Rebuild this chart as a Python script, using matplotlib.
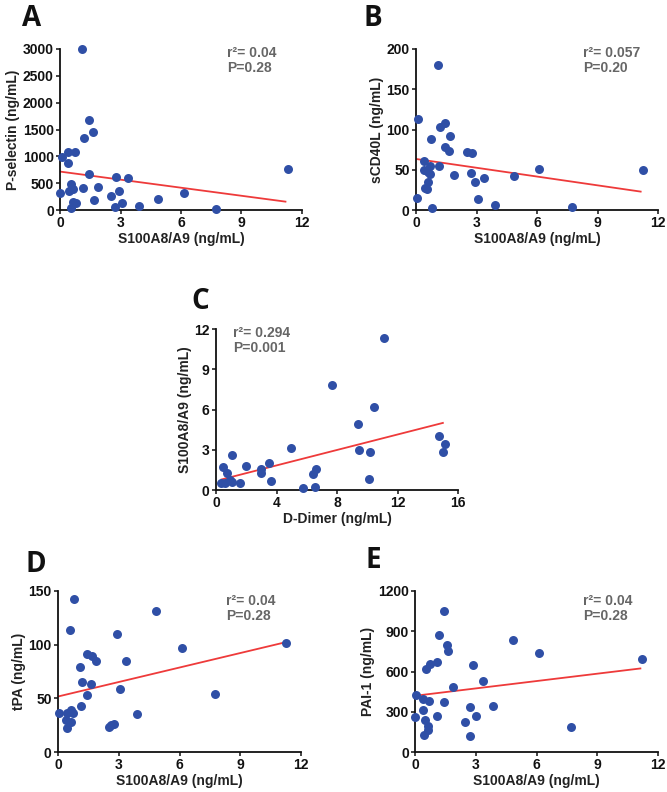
import matplotlib
matplotlib.use("Agg")
import matplotlib.pyplot as plt
import numpy as np

# ---------------- data ----------------
# Panel A: S100A8/A9 vs P-selectin
a_x = [1.08, 1.44, 1.62, 1.19, 0.41, 0.75, 0.08, 0.41, 1.46, 2.78, 3.36, 11.29, 0.53, 0.63,
       0.46, 1.16, 1.89, 0.02, 2.93, 2.52, 6.13, 4.88, 1.69, 3.06, 0.63, 0.78, 2.73, 3.94, 0.56, 7.75]
a_y = [3000, 1680, 1462, 1338, 1077, 1077, 996, 884, 672, 622, 591, 759, 479, 398,
       361, 417, 436, 311, 348, 268, 317, 205, 180, 137, 149, 124, 50, 81, 44, 25]
a_line = (716, -50.1, 0.0, 11.18)   # intercept, slope, x start, x end
a_stats = "r²= 0.04\nP=0.28"

# Panel B: S100A8/A9 vs sCD40L
b_x = [1.07, 0.10, 1.44, 1.19, 0.73, 1.68, 1.44, 1.62, 2.51, 2.79, 0.41, 0.68, 1.16, 0.40, 0.59,
       0.70, 1.90, 2.74, 4.87, 6.12, 11.24, 3.37, 2.92, 0.58, 0.45, 0.54, 0.03, 3.07, 3.93, 0.78, 7.74]
b_y = [180, 112.6, 108.5, 103, 88, 91.5, 77.8, 73.7, 72.5, 71.2, 60.9, 55, 55, 49.7, 47.6,
       44.3, 43.5, 45.5, 42.2, 50.5, 49.7, 40.2, 35.2, 35.2, 27.7, 26.1, 14.5, 14.1, 6.2, 2.9, 3.7]
b_line = (63.4, -3.64, 0.0, 11.14)
b_stats = "r²= 0.057\nP=0.20"

# Panel C: D-Dimer vs S100A8/A9
c_x = [0.44, 0.70, 0.31, 0.59, 0.93, 1.03, 1.06, 1.59, 1.98, 2.95, 2.95, 3.52, 3.61, 4.98,
       5.77, 6.43, 6.59, 6.54, 7.69, 9.40, 9.43, 10.18, 10.13, 10.42, 14.74, 15.15, 15.04, 11.10]
c_y = [1.68, 1.28, 0.49, 0.54, 0.74, 0.62, 2.62, 0.49, 1.78, 1.53, 1.23, 2.00, 0.69, 3.14,
       0.12, 1.19, 1.56, 0.20, 7.84, 4.94, 3.01, 2.84, 0.84, 6.22, 4.00, 3.46, 2.84, 11.35]
c_line = (0.68, 0.288, 0.37, 15.0)
c_stats = "r²= 0.294\nP=0.001"

# Panel D: S100A8/A9 vs tPA
d_x = [0.77, 4.86, 0.58, 2.92, 11.24, 6.12, 1.45, 1.68, 1.90, 3.38, 1.09, 1.20, 1.62, 3.08,
       1.45, 7.73, 1.15, 0.05, 0.66, 0.74, 0.46, 3.91, 0.41, 0.66, 2.77, 2.64, 2.51, 0.46]
d_y = [142.9, 131.1, 113.5, 110.1, 102, 97.1, 90.9, 89.7, 84.4, 84.4, 79.2, 65.6, 63.1, 58.5,
       53.5, 53.8, 42.4, 36.8, 39.3, 36.2, 36.2, 35.3, 30, 27.8, 26.3, 24.7, 23.5, 22.6]
d_line = (51.7, 4.5, 0.0, 11.13)
d_stats = "r²= 0.04\nP=0.28"

# Panel E: S100A8/A9 vs PAI-1
e_x = [1.42, 1.17, 4.83, 1.58, 1.65, 6.10, 11.21, 1.07, 0.73, 2.88, 0.56, 1.86, 3.35, 0.07, 0.40,
       0.69, 1.43, 3.87, 2.74, 0.38, 1.10, 3.03, 0.02, 0.49, 2.47, 0.63, 0.63, 7.70, 0.45, 2.72]
e_y = [1049, 873, 834, 795, 752, 740, 695, 670, 658, 648, 621, 487, 529, 428, 396,
       381, 373, 346, 334, 314, 270, 265, 260, 235, 225, 195, 166, 188, 129, 116]
e_line = (419, 18.3, 0.05, 11.13)
e_stats = "r²= 0.04\nP=0.28"

s100_ticks = [0, 3, 6, 9, 12]
ddimer_ticks = [0, 4, 8, 12, 16]

# ---------------- figure ----------------
W, H = 667, 792
fig = plt.figure(figsize=(W / 100, H / 100), dpi=100)

FONT = "Liberation Sans"
BLUE = "#2f4fa6"
RED = "#ee3a3a"
GRAY = "#666666"


def make_ax(x0, x1, y_top, y_bot):
    return fig.add_axes([x0 / W, 1 - y_bot / H, (x1 - x0) / W, (y_bot - y_top) / H])


def style(ax, xticks, yticks, xlabel, ylabel):
    ax.set_xlim(xticks[0], xticks[-1])
    ax.set_ylim(yticks[0], yticks[-1])
    ax.set_xticks(xticks)
    ax.set_yticks(yticks)
    for s in ("top", "right"):
        ax.spines[s].set_visible(False)
    for s in ("left", "bottom"):
        ax.spines[s].set_linewidth(1.3)
        ax.spines[s].set_color("#111111")
    ax.tick_params(direction="out", length=3, width=1.1, pad=1.5, colors="#111111")
    for lab in ax.get_xticklabels() + ax.get_yticklabels():
        lab.set_fontfamily(FONT)
        lab.set_fontweight("bold")
        lab.set_fontsize(10)
    ax.set_xlabel(xlabel, fontfamily=FONT, fontweight="bold", fontsize=10, labelpad=1, color="#222222")
    ax.set_ylabel(ylabel, fontfamily=FONT, fontweight="bold", fontsize=10, labelpad=2, color="#222222")
    ax.patch.set_alpha(0)


def panel(ax, x, y, line, stats, stats_pos):
    ax.scatter(x, y, s=42, color=BLUE, zorder=3, clip_on=False, linewidths=0)
    b0, b1, xs, xe = line
    lx = np.array([xs, xe])
    ax.plot(lx, b0 + b1 * lx, color=RED, lw=1.3, zorder=2)
    ax.text(stats_pos[0], stats_pos[1], stats, transform=ax.transAxes, fontfamily=FONT,
            fontweight="bold", fontsize=10, color=GRAY, va="top", ha="left", linespacing=1.1)


# A
axA = make_ax(60, 302, 49, 210)
style(axA, s100_ticks, [0, 500, 1000, 1500, 2000, 2500, 3000], "S100A8/A9 (ng/mL)", "P-selectin (ng/mL)")
panel(axA, a_x, a_y, a_line, a_stats, (0.69, 1.02))

# B
axB = make_ax(416, 658, 49, 210)
style(axB, s100_ticks, [0, 50, 100, 150, 200], "S100A8/A9 (ng/mL)", "sCD40L (ng/mL)")
panel(axB, b_x, b_y, b_line, b_stats, (0.69, 1.02))

# C
axC = make_ax(216, 458, 329, 490)
style(axC, ddimer_ticks, [0, 3, 6, 9, 12], "D-Dimer (ng/mL)", "S100A8/A9 (ng/mL)")
panel(axC, c_x, c_y, c_line, c_stats, (0.07, 1.02))

# D
axD = make_ax(58, 301, 591, 752)
style(axD, s100_ticks, [0, 50, 100, 150], "S100A8/A9 (ng/mL)", "tPA (ng/mL)")
panel(axD, d_x, d_y, d_line, d_stats, (0.69, 0.98))

# E
axE = make_ax(415, 658, 591, 752)
style(axE, s100_ticks, [0, 300, 600, 900, 1200], "S100A8/A9 (ng/mL)", "PAI-1 (ng/mL)")
panel(axE, e_x, e_y, e_line, e_stats, (0.69, 0.98))

# panel letters
for letter, px, py in [("A", 22, 26), ("B", 364, 26), ("C", 191, 309), ("D", 26, 572), ("E", 366, 568)]:
    fig.text(px / W, 1 - py / H, letter, fontfamily="Open Sans", fontweight="bold", fontsize=20,
             va="baseline", ha="left", color="#111111")

fig.savefig("out.png", dpi=100)
